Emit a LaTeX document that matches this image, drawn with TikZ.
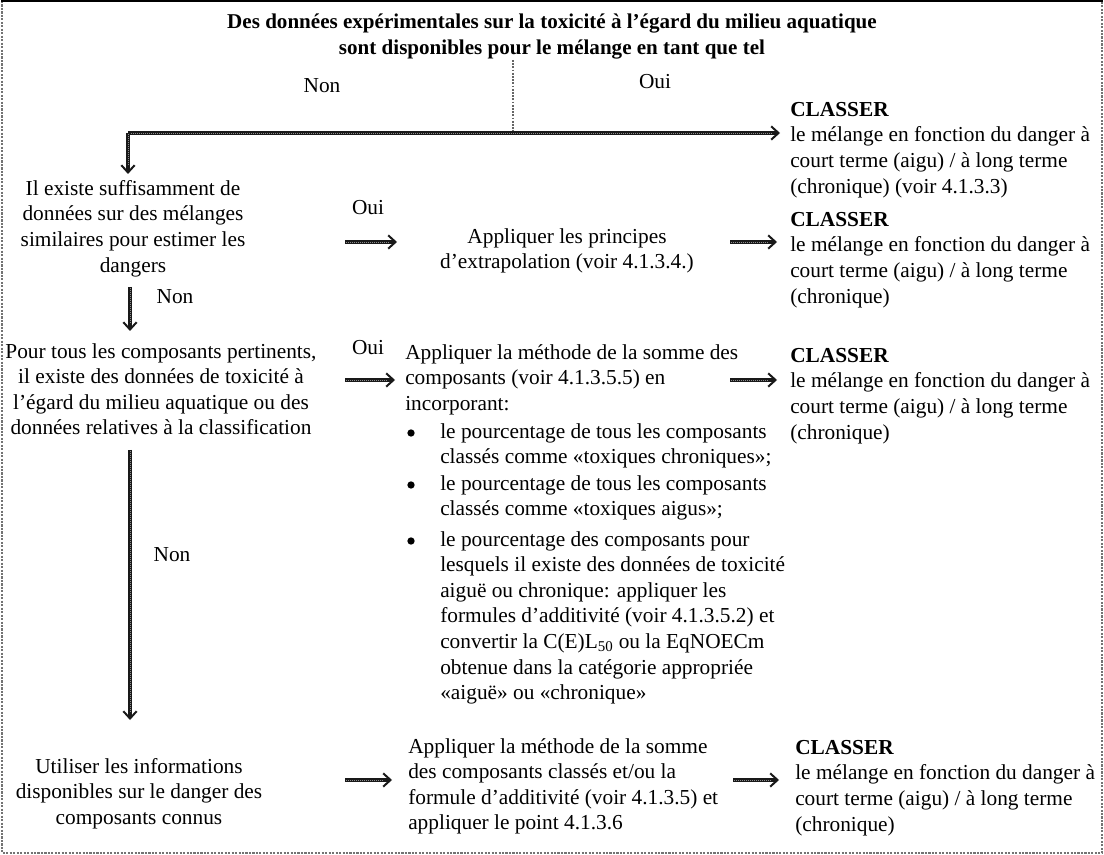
\documentclass[tikz,border=0pt]{standalone}
\usepackage{fontspec}
\setmainfont{Liberation Serif}
\usetikzlibrary{arrows.meta}
\begin{document}
\begin{tikzpicture}[x=0.75pt,y=-0.75pt,
  txt/.style={inner sep=0pt, font=\fontsize{16}{19.2}\selectfont},
  lbl/.style={inner sep=0pt, font=\fontsize{16}{19.2}\selectfont},
  bul/.style={circle, fill=black, inner sep=0pt, minimum size=5.5pt},
  arr/.style={draw=black!90, line width=2.4pt,
    -{Straight Barb[length=5.5pt,width=10pt,line width=1.5pt]},
    postaction={draw=black!45, line width=0.7pt, dash pattern=on 0.7pt off 0.8pt, shorten >=6pt, shorten <=1pt, -}},
  frame/.style={draw=black!55, line width=1.6pt, densely dotted}]
\useasboundingbox (0,0) rectangle (1104,855);
% frame
\draw[frame] (2,1) -- (2,853) -- (1102,853) -- (1102,1);
\draw[black, line width=1.6pt] (1,1) -- (1103,1);

% title
\node[txt, font=\fontsize{15.8}{19.5}\selectfont\bfseries, align=center] (title) at (552,37)
  {Des données expérimentales sur la toxicité à l’égard du milieu aquatique\\sont disponibles pour le mélange en tant que tel};

% labels
\node[lbl] (non1) at (322,86) {Non};
\node[lbl] (oui1) at (655,82) {Oui};
\node[lbl] (oui2) at (368,208) {Oui};
\node[lbl] (non2) at (175,297) {Non};
\node[lbl] (oui3) at (368,348) {Oui};
\node[lbl] (non3) at (172,555) {Non};

% left column
\node[txt, align=center, anchor=north] (L1) at (133,180)
  {Il existe suffisamment de\\données sur des mélanges\\similaires pour estimer les\\dangers};
\node[txt, align=center, anchor=north] (L2) at (161,343)
  {Pour tous les composants pertinents,\\il existe des données de toxicité à\\l’égard du milieu aquatique ou des\\données relatives à la classification};
\node[txt, align=center, anchor=north] (L3) at (139,758)
  {Utiliser les informations\\disponibles sur le danger des\\composants connus};

% middle column
\node[txt, align=center, anchor=north] (M1) at (567,228)
  {Appliquer les principes\\d’extrapolation (voir 4.1.3.4.)};
\node[txt, align=left, anchor=north west] (M2) at (405,344)
  {Appliquer la méthode de la somme des\\composants (voir 4.1.3.5.5) en\\incorporant:};
\node[bul] (b1) at (411,433) {};
\node[txt, align=left, anchor=north west] (B1) at (440,423)
  {le pourcentage de tous les composants\\classés comme «toxiques chroniques»;};
\node[bul] (b2) at (411,485) {};
\node[txt, align=left, anchor=north west] (B2) at (440,475)
  {le pourcentage de tous les composants\\classés comme «toxiques aigus»;};
\node[bul] (b3) at (411,541) {};
\node[txt, align=left, anchor=north west] (B3) at (440,531)
  {le pourcentage des composants pour\\lesquels il existe des données de toxicité\\aiguë ou chronique: appliquer les\\formules d’additivité (voir 4.1.3.5.2) et\\convertir la C(E)L\textsubscript{50} ou la EqNOECm\\obtenue dans la catégorie appropriée\\«aiguë» ou «chronique»};
\node[txt, align=left, anchor=north west] (M3) at (408,738)
  {Appliquer la méthode de la somme\\des composants classés et/ou la\\formule d’additivité (voir 4.1.3.5) et\\appliquer le point 4.1.3.6};

% right column
\node[txt, align=left, anchor=north west] (C1) at (790,102)
  {\textbf{CLASSER}\\le mélange en fonction du danger à\\court terme (aigu) / à long terme\\(chronique) (voir 4.1.3.3)};
\node[txt, align=left, anchor=north west] (C2) at (790,212)
  {\textbf{CLASSER}\\le mélange en fonction du danger à\\court terme (aigu) / à long terme\\(chronique)};
\node[txt, align=left, anchor=north west] (C3) at (790,348)
  {\textbf{CLASSER}\\le mélange en fonction du danger à\\court terme (aigu) / à long terme\\(chronique)};
\node[txt, align=left, anchor=north west] (C4) at (795,740)
  {\textbf{CLASSER}\\le mélange en fonction du danger à\\court terme (aigu) / à long terme\\(chronique)};

% connector coordinates
\coordinate (t0) at (513,60);
\coordinate (t1) at (513,133);
\coordinate (hl) at (128,133);
\coordinate (hr) at (780,133);
\coordinate (hd) at (128,174);
\coordinate (a1s) at (345,242); \coordinate (a1e) at (397,242);
\coordinate (a2s) at (730,242); \coordinate (a2e) at (777,242);
\coordinate (d2s) at (130,287); \coordinate (d2e) at (130,331);
\coordinate (a3s) at (345,380); \coordinate (a3e) at (395,380);
\coordinate (a4s) at (730,380); \coordinate (a4e) at (777,380);
\coordinate (d3s) at (130,450); \coordinate (d3e) at (130,720);
\coordinate (a5s) at (345,780); \coordinate (a5e) at (392,780);
\coordinate (a6s) at (733,780); \coordinate (a6e) at (779,780);

% connectors
\draw[draw=black!60, line width=1.4pt, densely dotted] (t0) -- (t1);
\draw[arr] (hl) -- (hr);
\draw[arr] (hl) -- (hd);
\draw[arr] (a1s) -- (a1e);
\draw[arr] (a2s) -- (a2e);
\draw[arr] (d2s) -- (d2e);
\draw[arr] (a3s) -- (a3e);
\draw[arr] (a4s) -- (a4e);
\draw[arr] (d3s) -- (d3e);
\draw[arr] (a5s) -- (a5e);
\draw[arr] (a6s) -- (a6e);
\end{tikzpicture}
\end{document}
